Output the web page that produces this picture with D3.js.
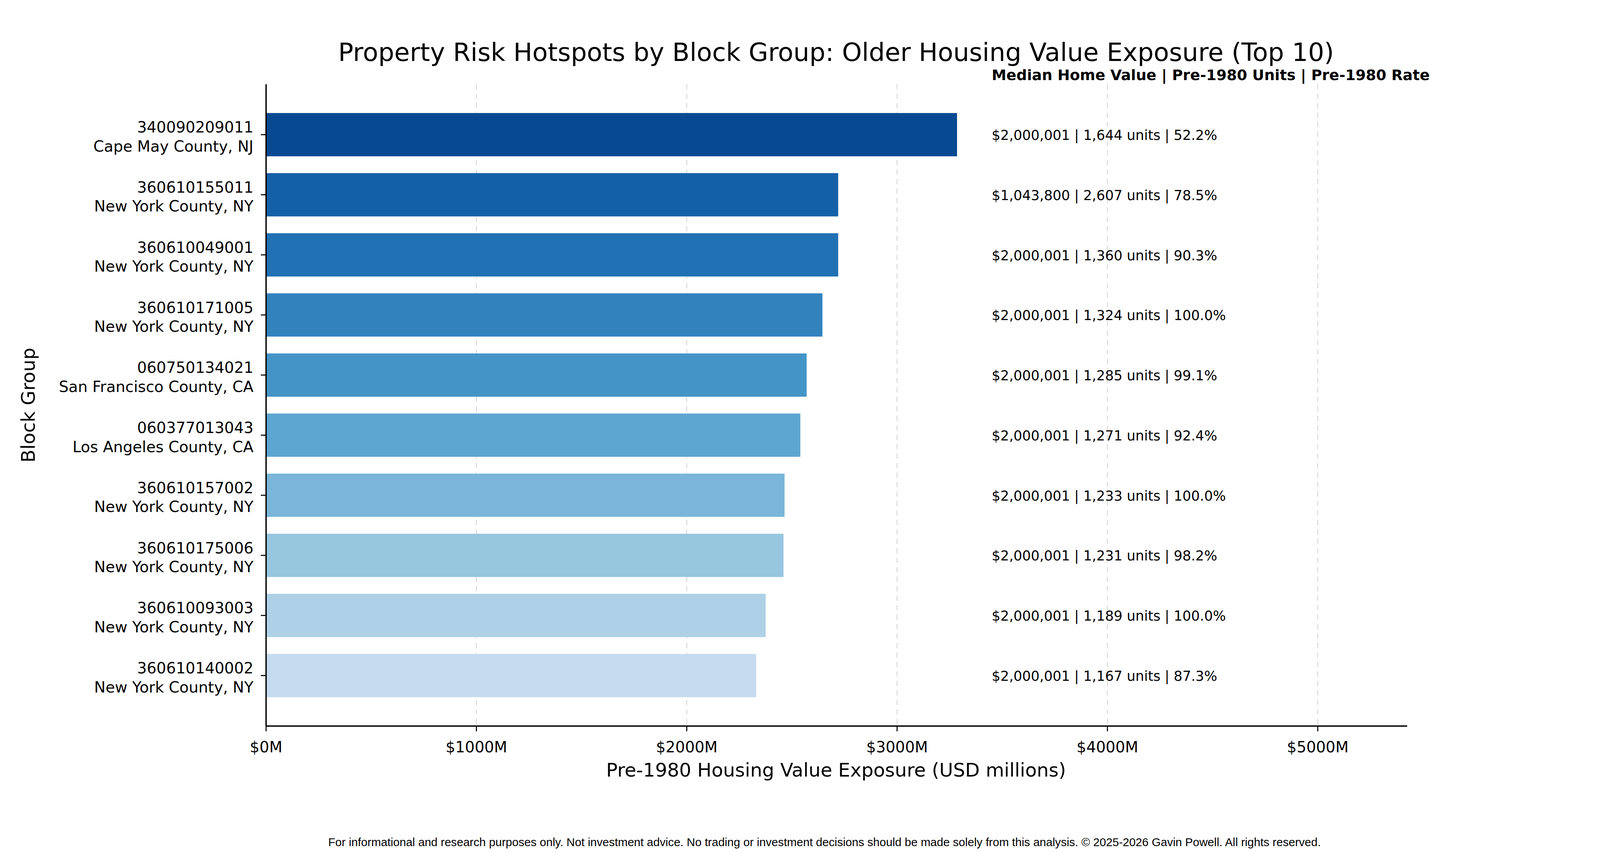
<!DOCTYPE html>
<html><head><meta charset="utf-8">
<script src="https://cdn.jsdelivr.net/npm/d3@7"></script>
<style>body{margin:0;background:#fff}text{font-family:"DejaVu Sans",sans-serif}</style>
</head><body>
<svg id="chart" width="4200" height="2180" viewBox="0 0 1560 809.7"></svg>
<script>
// data
var ids = ["340090209011","360610155011","360610049001","360610171005","060750134021","060377013043","360610157002","360610175006","360610093003","360610140002"];
var counties = ["Cape May County, NJ","New York County, NY","New York County, NY","New York County, NY","San Francisco County, CA","Los Angeles County, CA","New York County, NY","New York County, NY","New York County, NY","New York County, NY"];
var exposure = [3285, 2720, 2720, 2645, 2570, 2540, 2465, 2460, 2375, 2330];
var notes = ["$2,000,001 | 1,644 units | 52.2%","$1,043,800 | 2,607 units | 78.5%","$2,000,001 | 1,360 units | 90.3%","$2,000,001 | 1,324 units | 100.0%","$2,000,001 | 1,285 units | 99.1%","$2,000,001 | 1,271 units | 92.4%","$2,000,001 | 1,233 units | 100.0%","$2,000,001 | 1,231 units | 98.2%","$2,000,001 | 1,189 units | 100.0%","$2,000,001 | 1,167 units | 87.3%"];
var colors = ["#084a91","#1460a8","#2070b4","#3282be","#4594c7","#5ea6d2","#7ab6d9","#97c6df","#afd1e7","#c6dbef"];
var xTicks = [0,1000,2000,3000,4000,5000];

var svg = d3.select("#chart");
var L = 253, R = 1338, T = 80, B = 690;
var x = d3.scaleLinear().domain([0, 5425]).range([L, R]);
var y = d3.scaleLinear().domain([-0.84, 9.84]).range([T, B]);
var bh = (y(1) - y(0)) * 0.72;

// grid
svg.selectAll(".grid").data(xTicks.slice(1)).enter().append("line")
  .attr("x1", d => x(d)).attr("x2", d => x(d)).attr("y1", T).attr("y2", B)
  .attr("stroke", "#dddddd").attr("stroke-width", 1).attr("stroke-dasharray", "5,4");

// bars
svg.selectAll(".bar").data(exposure).enter().append("rect")
  .attr("x", x(0)).attr("y", (d, i) => y(i) - bh / 2)
  .attr("width", d => x(d) - x(0)).attr("height", bh)
  .attr("fill", (d, i) => colors[i]);

// spines
svg.append("line").attr("x1", L).attr("x2", L).attr("y1", T).attr("y2", B).attr("stroke", "#000").attr("stroke-width", 1.3);
svg.append("line").attr("x1", L).attr("x2", R).attr("y1", B).attr("y2", B).attr("stroke", "#000").attr("stroke-width", 1.3);

// x ticks
var xt = svg.selectAll(".xt").data(xTicks).enter().append("g");
xt.append("line").attr("x1", d => x(d)).attr("x2", d => x(d)).attr("y1", B).attr("y2", B + 5).attr("stroke", "#000");
xt.append("text").attr("x", d => x(d)).attr("y", B + 25).attr("text-anchor", "middle")
  .attr("font-size", 14.5).text(d => "$" + d + "M");

// y ticks
var yt = svg.selectAll(".yt").data(ids).enter().append("g");
yt.append("line").attr("x1", L - 5).attr("x2", L).attr("y1", (d, i) => y(i)).attr("y2", (d, i) => y(i)).attr("stroke", "#000");
yt.append("text").attr("x", 241).attr("y", (d, i) => y(i) - 2).attr("text-anchor", "end").attr("font-size", 14.5).text(d => d);
yt.append("text").attr("x", 241).attr("y", (d, i) => y(i) + 16).attr("text-anchor", "end").attr("font-size", 14.5).text((d, i) => counties[i]);

// annotations
svg.append("text").attr("x", 943).attr("y", 76).attr("font-size", 14).attr("font-weight", "bold")
  .text("Median Home Value | Pre-1980 Units | Pre-1980 Rate");
svg.selectAll(".note").data(notes).enter().append("text")
  .attr("x", 943).attr("y", (d, i) => y(i) + 5).attr("font-size", 13).text(d => d);

// titles
svg.append("text").attr("x", 795).attr("y", 58).attr("text-anchor", "middle").attr("font-size", 24)
  .text("Property Risk Hotspots by Block Group: Older Housing Value Exposure (Top 10)");
svg.append("text").attr("x", 795).attr("y", 738).attr("text-anchor", "middle").attr("font-size", 18)
  .text("Pre-1980 Housing Value Exposure (USD millions)");
svg.append("text").attr("transform", "translate(33," + ((T + B) / 2) + ") rotate(-90)")
  .attr("text-anchor", "middle").attr("font-size", 18).text("Block Group");
svg.append("text").attr("x", 784).attr("y", 804).attr("text-anchor", "middle").attr("font-size", 11)
  .style("font-family", "'Liberation Sans', Arial, sans-serif")
  .text("For informational and research purposes only. Not investment advice. No trading or investment decisions should be made solely from this analysis. © 2025-2026 Gavin Powell. All rights reserved.");
</script>
</body></html>
